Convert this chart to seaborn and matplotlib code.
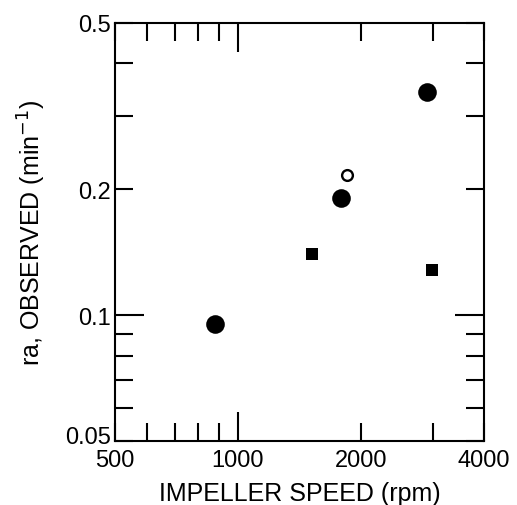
import matplotlib
matplotlib.use("Agg")
import matplotlib.pyplot as plt
import seaborn as sns
from matplotlib.ticker import FixedLocator, NullFormatter
from matplotlib.transforms import ScaledTranslation

# data (log-log)
filled_speed = [880, 1790, 2900]
filled_rate = [0.095, 0.191, 0.342]

open_speed = [1845]
open_rate = [0.216]

square_speed = [1515, 2980]
square_rate = [0.140, 0.128]

x_ticks = [500, 1000, 2000, 4000]
x_labels = ["500", "1000", "2000", "4000"]
y_ticks = [0.05, 0.1, 0.2, 0.5]
y_labels = ["0.05", "0.1", "0.2", "0.5"]
x_minor = [600, 700, 800, 900, 3000]
y_minor = [0.06, 0.07, 0.08, 0.09, 0.3, 0.4]

sns.set_style("ticks", {"text.color": "black", "axes.labelcolor": "black"})
plt.rcParams["font.family"] = ["Liberation Sans", "DejaVu Sans"]

fig = plt.figure(figsize=(5.17, 5.06), dpi=100)
ax = fig.add_axes([0.2224, 0.1265, 0.7138, 0.8261])

sns.scatterplot(x=filled_speed, y=filled_rate, ax=ax, marker="o", s=180,
                color="black", edgecolor="black", linewidth=0)
sns.scatterplot(x=open_speed, y=open_rate, ax=ax, marker="o", s=60,
                facecolor="white", edgecolor="black", linewidth=1.7)
sns.scatterplot(x=square_speed, y=square_rate, ax=ax, marker="s", s=80,
                color="black", edgecolor="black", linewidth=0)

ax.set_xscale("log")
ax.set_yscale("log")
ax.set_xlim(500, 4000)
ax.set_ylim(0.05, 0.5)

ax.xaxis.set_major_locator(FixedLocator(x_ticks))
ax.set_xticklabels(x_labels)
ax.yaxis.set_major_locator(FixedLocator(y_ticks))
ax.set_yticklabels(y_labels)
ax.xaxis.set_minor_locator(FixedLocator(x_minor))
ax.yaxis.set_minor_locator(FixedLocator(y_minor))
ax.xaxis.set_minor_formatter(NullFormatter())
ax.yaxis.set_minor_formatter(NullFormatter())

ax.tick_params(which="both", direction="in", top=True, right=True,
               width=1.5, length=13, labelsize=17, colors="black")
ax.tick_params(axis="x", pad=6)
ax.tick_params(axis="y", pad=3)

# decade ticks are longer
for t in [ax.xaxis.get_major_ticks()[1], ax.yaxis.get_major_ticks()[1]]:
    t.tick1line.set_markersize(21)
    t.tick2line.set_markersize(21)

# lift the bottom y label a little so it clears "500"
lbl = ax.get_yticklabels()[0]
lbl.set_transform(lbl.get_transform() + ScaledTranslation(0, 5 / 72, fig.dpi_scale_trans))

for sp in ax.spines.values():
    sp.set_linewidth(1.5)
    sp.set_color("black")

ax.set_xlabel("IMPELLER SPEED (rpm)", fontsize=18, labelpad=7, color="black")
ax.set_ylabel("ra, OBSERVED (min$^{-1}$)", fontsize=18, labelpad=12, color="black")

fig.savefig("out.png", dpi=100)
